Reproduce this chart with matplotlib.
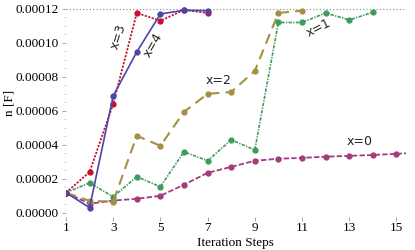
import matplotlib
matplotlib.use("Agg")
import matplotlib.pyplot as plt
from matplotlib.ticker import MultipleLocator, FormatStrFormatter

steps0 = list(range(1, 16))
x0 = [0.0000118, 0.0000053, 0.0000072, 0.0000082, 0.0000100, 0.0000165, 0.0000235, 0.0000270,
      0.0000306, 0.0000318, 0.0000323, 0.0000330, 0.0000335, 0.0000340, 0.0000347]
steps1 = list(range(1, 15))
x1 = [0.0000118, 0.0000176, 0.0000094, 0.0000212, 0.0000153, 0.0000359, 0.0000306, 0.0000429,
      0.0000370, 0.0001120, 0.0001120, 0.0001176, 0.0001135, 0.0001180]
steps2 = list(range(1, 12))
x2 = [0.0000118, 0.0000070, 0.0000065, 0.0000453, 0.0000394, 0.0000594, 0.0000700, 0.0000711,
      0.0000835, 0.0001176, 0.0001190]
steps3 = list(range(1, 8))
x3 = [0.0000118, 0.0000240, 0.0000640, 0.0001176, 0.0001130, 0.0001194, 0.0001176]
steps4 = list(range(1, 8))
x4 = [0.0000118, 0.0000030, 0.0000688, 0.0000947, 0.0001170, 0.0001192, 0.0001190]

ref_level = 0.00012
xticks = [1, 3, 5, 7, 9, 11, 13, 15]

c0 = "#a23d7c"
c1 = "#3d9c5c"
c2 = "#a39045"
c3 = "#c8102e"
c4 = "#4a46aa"

fig = plt.figure(figsize=(4.15, 2.5), dpi=100)
ax = fig.add_axes([0.159, 0.132, 0.819, 0.846])

ax.axhline(ref_level, color="#888888", lw=0.8, ls=(0, (1, 2)), zorder=1)

ax.plot(steps0, x0, color=c0, lw=1.3, ls=(0, (3, 1.2)), marker="o", ms=3.5, zorder=3)
ax.plot([15, 15.4], [x0[-1], x0[-1] + 0.0000003], color=c0, lw=1.3, ls=(0, (3, 1.2)), zorder=3)
ax.plot(steps1, x1, color=c1, lw=1.2, ls=(0, (2, 0.8, 0.8, 0.8)), marker="o", ms=3.5, zorder=3)
ax.plot(steps2, x2, color=c2, lw=1.5, ls=(0, (5, 3)), marker="o", ms=3.5, zorder=3)
ax.plot(steps3, x3, color=c3, lw=1.3, ls=(0, (1.2, 0.8)), marker="o", ms=3.5, zorder=4)
ax.plot(steps4, x4, color=c4, lw=1.2, ls="-", marker="o", ms=3.5, zorder=4)

lab_kw = dict(fontsize=9, family="DejaVu Sans", color="#222222", ha="center", va="center")
ax.text(13.45, 0.0000417, "x=0", **lab_kw)
ax.text(11.7, 0.000109, "x=1", rotation=27, **lab_kw)
ax.text(7.45, 0.0000776, "x=2", **lab_kw)
ax.text(3.2, 0.0001035, "x=3", rotation=72, **lab_kw)
ax.text(4.7, 0.0000988, "x=4", rotation=60, **lab_kw)

ax.set_xlim(1, 15.4)
ax.set_ylim(-0.0000025, 0.000122)
ax.set_xticks(xticks)
ax.set_yticks([0, 0.00002, 0.00004, 0.00006, 0.00008, 0.0001, 0.00012])
ax.yaxis.set_major_formatter(FormatStrFormatter("%.5f"))
ax.yaxis.set_minor_locator(MultipleLocator(0.000005))
ax.xaxis.set_minor_locator(MultipleLocator(1))

for s in ax.spines.values():
    s.set_visible(False)

ax.tick_params(axis="both", which="major", length=3, width=0.6, color="#999999",
               labelsize=9.5, pad=2)
ax.tick_params(axis="x", which="major", pad=0.5)
ax.tick_params(axis="both", which="minor", length=1.5, width=0.5, color="#bbbbbb")
ax.tick_params(axis="x", which="minor", length=0)
for lab in ax.get_xticklabels() + ax.get_yticklabels():
    lab.set_family("Liberation Serif")

ax.set_xlabel("Iteration Steps", family="Liberation Serif", fontsize=9.5, labelpad=0)
ax.xaxis.set_label_coords(0.5, -0.095)
ax.set_ylabel("n [F]", family="Liberation Serif", fontsize=9.5)
ax.yaxis.set_label_coords(-0.148, 0.54)

fig.savefig("out.png", dpi=100)
